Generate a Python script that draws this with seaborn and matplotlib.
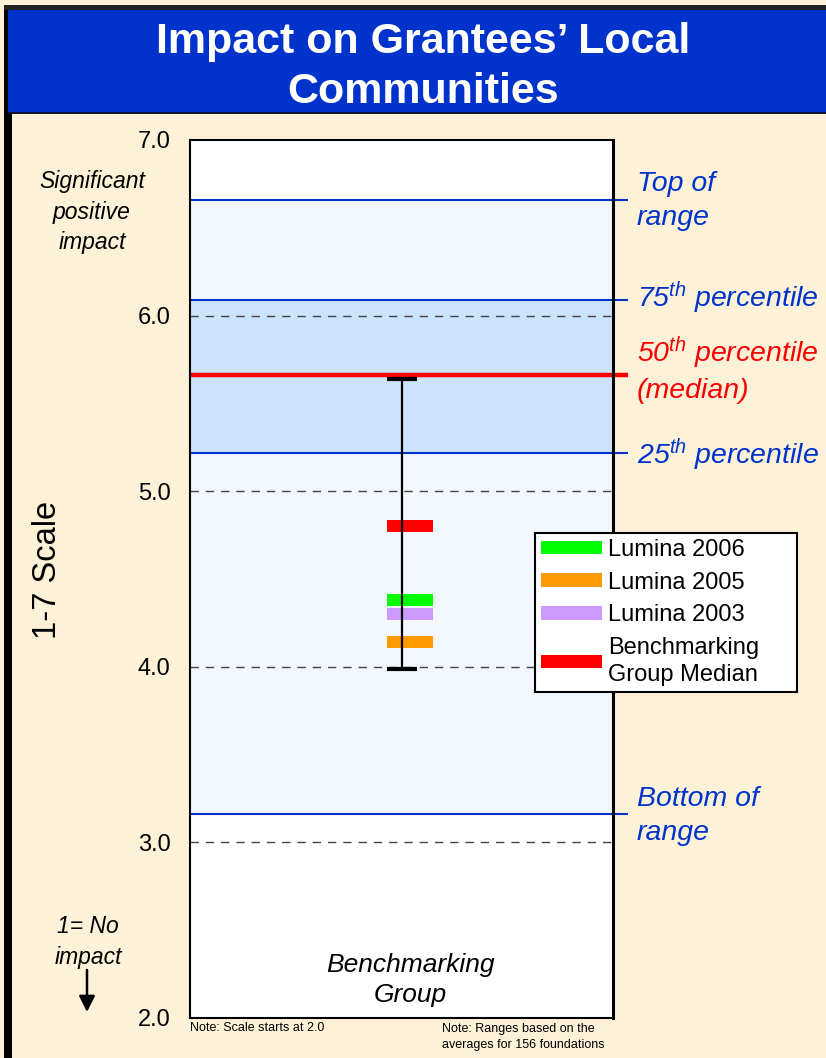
import matplotlib
matplotlib.use("Agg")
import matplotlib.pyplot as plt
import matplotlib.transforms as mtransforms
from matplotlib.patches import Rectangle, Patch
import numpy as np
import pandas as pd
import seaborn as sns

# ---------------- data ----------------
series = ["Lumina 2006", "Lumina 2005", "Lumina 2003", "Benchmarking Group Median"]
legend_labels = ["Lumina 2006", "Lumina 2005", "Lumina 2003", "Benchmarking\nGroup Median"]
values = [4.38, 4.14, 4.30, 4.80]
colors = ["#00FF00", "#FF9900", "#CC99FF", "#FF0000"]

range_top = 6.66
pct75 = 6.09
pct50 = 5.66
pct25 = 5.22
range_bottom = 3.16
whisker_low = 3.99
whisker_high = 5.64

y_ticks = [2.0, 3.0, 4.0, 5.0, 6.0, 7.0]
grid_levels = [3.0, 4.0, 5.0, 6.0]

# ---------------- style ----------------
sns.set_theme(style="white")
plt.rcParams["font.family"] = ["Liberation Sans", "DejaVu Sans"]
plt.rcParams["text.color"] = "black"
plt.rcParams["mathtext.fontset"] = "custom"
plt.rcParams["mathtext.rm"] = "Liberation Sans"
plt.rcParams["mathtext.it"] = "Liberation Sans:italic"
plt.rcParams["mathtext.bf"] = "Liberation Sans:bold"

W, H = 826, 1058
CREAM = "#FDF2D8"
BLUE = "#0033CC"
fig = plt.figure(figsize=(W / 100, H / 100), dpi=100, facecolor=CREAM)

def fx(px):
    return px / W

def fy(py):
    return 1 - py / H

# frame decorations
fig.patches.append(Rectangle((fx(4), 0), fx(8), fy(5), transform=fig.transFigure,
                             facecolor="black", edgecolor="none", zorder=0))
fig.patches.append(Rectangle((fx(4), fy(10)), 1, 5 / H,
                             transform=fig.transFigure, facecolor="#222222",
                             edgecolor="none", zorder=0))
fig.patches.append(Rectangle((fx(8), fy(112)), 1, 102 / H, transform=fig.transFigure,
                             facecolor=BLUE, edgecolor="none", zorder=1))
fig.patches.append(Rectangle((fx(8), fy(114)), 1, 2 / H, transform=fig.transFigure,
                             facecolor="#111133", edgecolor="none", zorder=1))

fig.text(fx(423), fy(67), "Impact on Grantees\u2019 Local\nCommunities", ha="center",
         va="center", color="white", fontsize=31, fontweight="bold", linespacing=1.3)

# ---------------- axes ----------------
ax = fig.add_axes([fx(190), fy(1018), (613 - 190) / W, (1018 - 140) / H])
ax.set_xlim(-1, 1)
ax.set_ylim(2.0, 7.0)
ax.set_facecolor("white")

# range shading
ax.axhspan(range_bottom, range_top, color="#F2F7FE", zorder=0.5, lw=0)
ax.axhspan(pct25, pct75, color="#CCE4FB", zorder=0.6, lw=0)

# grid lines
for g in grid_levels:
    ax.axhline(g, color="#444444", lw=1.0, dashes=(6, 5), zorder=1)

# range lines extending past right spine
trans = mtransforms.blended_transform_factory(ax.transAxes, ax.transData)
for lvl in [range_top, pct75, pct25, range_bottom]:
    ax.plot([0, 1.036], [lvl, lvl], transform=trans, color=BLUE, lw=1.5,
            clip_on=False, zorder=2, solid_capstyle="butt")
ax.plot([0, 1.036], [pct50, pct50], transform=trans, color="#FF0000", lw=3.2,
        clip_on=False, zorder=2.5, solid_capstyle="butt")

# markers via seaborn
df = pd.DataFrame({"series": series, "value": values, "x": [0.0] * len(series)})
df["xpos"] = df["x"] + 0.04
bar_marker = [(-1, -0.26), (1, -0.26), (1, 0.26), (-1, 0.26), (-1, -0.26)]
sns.scatterplot(data=df, x="xpos", y="value", hue="series",
                palette=dict(zip(series, colors)), marker=bar_marker, s=1096,
                linewidth=0, edgecolor="none", legend=False, ax=ax, zorder=3)

# whisker
ax.errorbar([0.0], [(whisker_low + whisker_high) / 2],
            yerr=[[(whisker_high - whisker_low) / 2], [(whisker_high - whisker_low) / 2]],
            fmt="none", ecolor="black", elinewidth=1.6, capsize=11, capthick=3,
            zorder=4)

ax.set_xticks([])
ax.set_yticks(y_ticks)
ax.set_yticklabels([f"{t:.1f}" for t in y_ticks], fontsize=17, color="black")
ax.tick_params(axis="y", length=0, pad=14, colors="black")
ax.set_xlabel("")
ax.set_ylabel("")
for s in ax.spines.values():
    s.set_color("black")
    s.set_linewidth(1.5)
    s.set_visible(True)
ax.spines["right"].set_linewidth(2.2)

# legend
handles = [Patch(facecolor=c, edgecolor="none") for c in colors]
lx0 = (535 - 190) / 423
ltop = 1 - (533 - 140) / 878
lw_ = 262 / 423
lh_ = 157 / 878
leg = ax.legend(handles, legend_labels, loc="upper left",
                bbox_to_anchor=(lx0, ltop - lh_, lw_, lh_), mode="expand",
                fontsize=17, frameon=True, fancybox=False, framealpha=1,
                edgecolor="black", handlelength=2.6, handleheight=0.5,
                handletextpad=0.25, labelspacing=0.45, borderpad=0.25,
                borderaxespad=0)
leg.get_frame().set_linewidth(1.5)
for t in leg.get_texts():
    t.set_linespacing(1.3)
    t.set_color("black")
leg.set_zorder(6)

# category label
fig.text(fx(410), fy(980), "Benchmarking\nGroup", ha="center", va="center",
         fontsize=19, fontstyle="italic", linespacing=1.35)

# right annotations
fig.text(fx(637), fy(201), "Top of\nrange", ha="left", va="center", color=BLUE,
         fontsize=20.5, fontstyle="italic", linespacing=1.4)
fig.text(fx(637), fy(298), "75$^{th}$ percentile", ha="left", va="center", color=BLUE,
         fontsize=20.5, fontstyle="italic")
fig.text(fx(637), fy(369), "50$^{th}$ percentile\n(median)", ha="left", va="center",
         color="#FF0000", fontsize=20.5, fontstyle="italic", linespacing=1.35)
fig.text(fx(637), fy(455), "25$^{th}$ percentile", ha="left", va="center", color=BLUE,
         fontsize=20.5, fontstyle="italic")
fig.text(fx(637), fy(816), "Bottom of\nrange", ha="left", va="center", color=BLUE,
         fontsize=20.5, fontstyle="italic", linespacing=1.4)

# left annotations
fig.text(fx(92), fy(212), "Significant\npositive\nimpact", ha="center", va="center",
         fontsize=16.5, fontstyle="italic", linespacing=1.4)
fig.text(fx(88), fy(942), "1= No\nimpact", ha="center", va="center",
         fontsize=16.5, fontstyle="italic", linespacing=1.4)
fig.text(fx(48), fy(570), "1-7 Scale", ha="center", va="center", rotation=90,
         fontsize=23.5)
ax.annotate("", xy=(fx(87), fy(1012)), xytext=(fx(87), fy(970)),
            xycoords="figure fraction", textcoords="figure fraction",
            arrowprops=dict(arrowstyle="-|>", color="black", lw=1.8,
                            mutation_scale=24, shrinkA=0, shrinkB=0))

# notes
fig.text(fx(190), fy(1028), "Note: Scale starts at 2.0", ha="left", va="center",
         fontsize=9)
fig.text(fx(442), fy(1037), "Note: Ranges based on the\naverages for 156 foundations",
         ha="left", va="center", fontsize=9, linespacing=1.4)

fig.savefig("out.png", dpi=100, facecolor=CREAM)
